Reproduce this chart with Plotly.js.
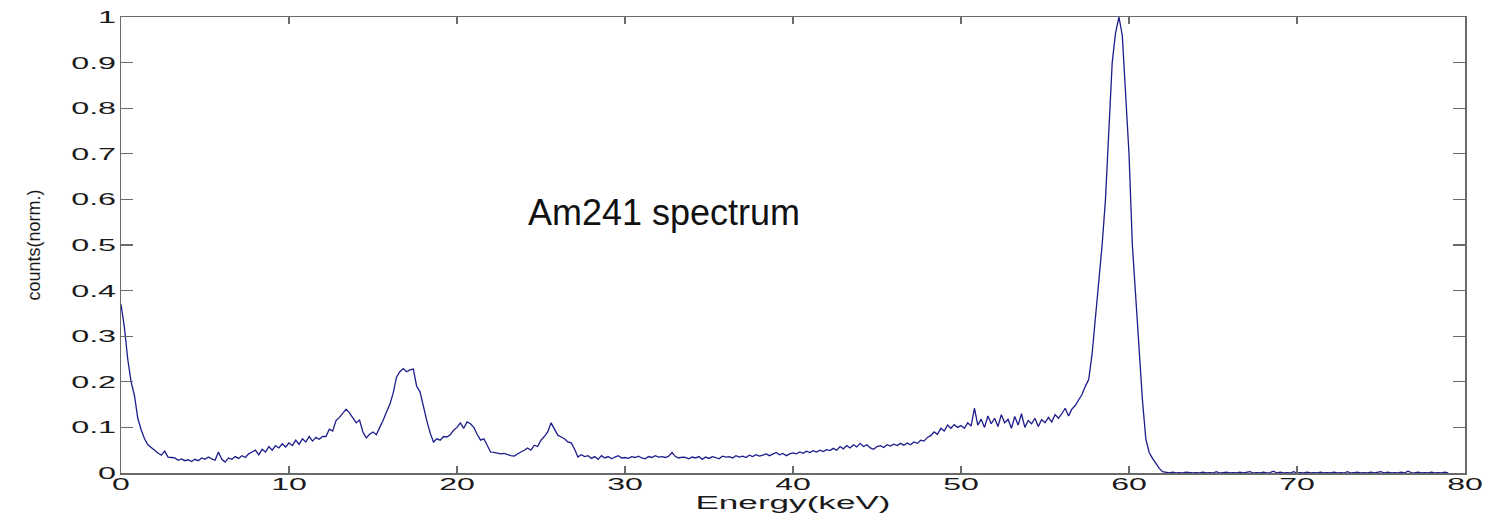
<!DOCTYPE html>
<html>
<head>
<meta charset="utf-8">
<script src="https://cdn.plot.ly/plotly-3.0.1.min.js"></script>
<style>
  html, body { margin: 0; padding: 0; background: #ffffff; }
  #chart { width: 1491px; height: 515px; }
</style>
</head>
<body>
<div id="chart"></div>
<script>
// Energy axis of the spectrum: first channel and channel width (keV)
const energyStart = 0;
const energyStep = 0.2;

// Normalised counts, one value per 0.2 keV channel (0 ... 79 keV)
const counts = [
  0.37, 0.32, 0.25, 0.2, 0.17, 0.12, 0.095, 0.075, 0.062, 0.055, 0.05,
  0.044, 0.039, 0.048, 0.035, 0.034, 0.033, 0.028, 0.031, 0.027, 0.029,
  0.025, 0.03, 0.027, 0.033, 0.03, 0.035, 0.031, 0.028, 0.046, 0.03,
  0.024, 0.033, 0.03, 0.036, 0.032, 0.038, 0.034, 0.042, 0.046, 0.05,
  0.04, 0.052, 0.046, 0.058, 0.05, 0.06, 0.055, 0.064, 0.057, 0.066,
  0.06, 0.072, 0.063, 0.075, 0.068, 0.08, 0.07, 0.078, 0.074, 0.08,
  0.08, 0.096, 0.092, 0.115, 0.122, 0.13, 0.14, 0.132, 0.12, 0.11,
  0.116, 0.09, 0.077, 0.085, 0.09, 0.084, 0.1, 0.115, 0.134, 0.15,
  0.175, 0.21, 0.222, 0.229, 0.222, 0.226, 0.228, 0.19, 0.178, 0.145,
  0.115, 0.088, 0.068, 0.075, 0.072, 0.08, 0.079, 0.084, 0.094, 0.1,
  0.11, 0.098, 0.112, 0.108, 0.1, 0.085, 0.072, 0.075, 0.061, 0.046,
  0.045, 0.044, 0.042, 0.043, 0.04, 0.038, 0.037, 0.042, 0.046, 0.05,
  0.055, 0.05, 0.061, 0.058, 0.072, 0.08, 0.09, 0.11, 0.095, 0.083,
  0.079, 0.075, 0.068, 0.066, 0.052, 0.035, 0.04, 0.036, 0.038, 0.032,
  0.036, 0.03, 0.038, 0.033, 0.036, 0.031, 0.035, 0.038, 0.033, 0.034,
  0.032, 0.036, 0.034, 0.037, 0.033, 0.031, 0.036, 0.034, 0.038, 0.035,
  0.036, 0.034, 0.037, 0.045, 0.036, 0.033, 0.035, 0.034, 0.031, 0.035,
  0.033, 0.036, 0.03, 0.035, 0.032, 0.036, 0.034, 0.031, 0.037, 0.035,
  0.036, 0.033, 0.038, 0.035, 0.037, 0.034, 0.039, 0.036, 0.04, 0.037,
  0.039, 0.042, 0.038, 0.041, 0.045, 0.04, 0.043, 0.038, 0.042, 0.044,
  0.042, 0.046, 0.043, 0.048, 0.045, 0.049, 0.046, 0.05, 0.047, 0.051,
  0.049, 0.054, 0.05, 0.058, 0.053, 0.06, 0.055, 0.062, 0.057, 0.065,
  0.058, 0.062, 0.055, 0.052, 0.058, 0.06, 0.056, 0.062, 0.059, 0.063,
  0.06, 0.065, 0.061, 0.066, 0.062, 0.068, 0.065, 0.072, 0.07, 0.078,
  0.082, 0.09, 0.085, 0.098, 0.092, 0.105, 0.098, 0.106, 0.1, 0.104,
  0.098, 0.11, 0.103, 0.142, 0.105, 0.118, 0.1, 0.125, 0.108, 0.12,
  0.102, 0.128, 0.11, 0.118, 0.098, 0.124, 0.105, 0.13, 0.1, 0.115,
  0.108, 0.12, 0.102, 0.117, 0.11, 0.122, 0.112, 0.128, 0.12, 0.13,
  0.142, 0.125, 0.14, 0.148, 0.16, 0.172, 0.19, 0.205, 0.26, 0.335,
  0.41, 0.5, 0.6, 0.76, 0.9, 0.965, 1.0, 0.96, 0.84, 0.7,
  0.5, 0.38, 0.27, 0.16, 0.075, 0.045, 0.032, 0.02, 0.01, 0.003,
  0.001, 0, 0.002, 0, 0.001, 0, 0.002, 0.001, 0, 0.001,
  0, 0.002, 0, 0.001, 0, 0.003, 0, 0.001, 0.002, 0,
  0.001, 0, 0.002, 0, 0.001, 0.003, 0, 0.001, 0, 0.002,
  0, 0.001, 0.004, 0, 0.002, 0, 0.001, 0, 0.003, 0,
  0.001, 0, 0.002, 0, 0.001, 0, 0.002, 0, 0.001, 0,
  0.002, 0, 0.001, 0, 0.003, 0, 0.001, 0.002, 0, 0.001,
  0, 0.002, 0, 0.001, 0.003, 0, 0.002, 0, 0.001, 0,
  0.002, 0, 0.004, 0.001, 0, 0.002, 0, 0.001, 0, 0.002,
  0, 0.001, 0, 0.002, 0
];

// Axis ticks
const xTicks = [0, 10, 20, 30, 40, 50, 60, 70, 80];
const xTickLabels = ["0", "10", "20", "30", "40", "50", "60", "70", "80"];
const yTicks = [0, 0.1, 0.2, 0.3, 0.4, 0.5, 0.6, 0.7, 0.8, 0.9, 1];
const yTickLabels = ["0", "0.1", "0.2", "0.3", "0.4", "0.5", "0.6", "0.7", "0.8", "0.9", "1"];

// Texts
const xTitle = "Energy(keV)";
const yTitle = "counts(norm.)";
const noteText = "Am241 spectrum";
const noteX = 32.3;
const noteY = 0.572;

const axisColor = "#6a6a6a";
const textFamily = "Liberation Sans, Arial, sans-serif";

const trace = {
  type: "scatter",
  mode: "lines",
  x0: energyStart,
  dx: energyStep,
  y: counts,
  line: { color: "#1c1c8c", width: 1.3 },
  hoverinfo: "skip",
  showlegend: false
};

const layout = {
  width: 1491,
  height: 515,
  margin: { l: 121, r: 26, t: 17, b: 42, pad: 0 },
  paper_bgcolor: "#ffffff",
  plot_bgcolor: "#ffffff",
  showlegend: false,
  xaxis: {
    range: [0, 80],
    tickmode: "array",
    tickvals: xTicks,
    ticktext: xTickLabels,
    ticks: "inside",
    ticklen: 7,
    tickwidth: 1.2,
    tickcolor: axisColor,
    ticklabelstandoff: -4,
    showline: true,
    linecolor: axisColor,
    linewidth: 1.5,
    mirror: "ticks",
    showgrid: false,
    zeroline: false,
    tickfont: { family: textFamily, size: 16, color: "#1a1a1a" },
    title: { text: xTitle, font: { family: textFamily, size: 18, color: "#1a1a1a" }, standoff: 0 }
  },
  yaxis: {
    range: [0, 1],
    tickmode: "array",
    tickvals: yTicks,
    ticktext: yTickLabels,
    ticks: "inside",
    ticklen: 12,
    tickwidth: 1.2,
    tickcolor: axisColor,
    showline: true,
    linecolor: axisColor,
    linewidth: 1.5,
    mirror: "ticks",
    showgrid: false,
    zeroline: false,
    tickfont: { family: textFamily, size: 17, color: "#1a1a1a" },
    title: { text: yTitle, font: { family: textFamily, size: 18, color: "#1a1a1a" }, standoff: 47 }
  },
  annotations: [{
    x: noteX, y: noteY, xref: "x", yref: "y",
    text: noteText, showarrow: false,
    xanchor: "center", yanchor: "middle",
    font: { family: textFamily, size: 36, color: "#111111" }
  }]
};

Plotly.newPlot("chart", [trace], layout, { displayModeBar: false, staticPlot: true }).then(function (gd) {
  // The reference figure is horizontally stretched: widen the axis texts to match.
  function stretch(selector, factor) {
    gd.querySelectorAll(selector).forEach(function (t) {
      const w = t.getComputedTextLength();
      if (w > 0) {
        t.setAttribute("textLength", (w * factor).toFixed(1));
        t.setAttribute("lengthAdjust", "spacingAndGlyphs");
      }
    });
  }
  stretch(".xtick text", 2.0);
  stretch(".ytick text", 1.9);
  stretch(".xtitle", 1.95);
});
</script>
</body>
</html>
